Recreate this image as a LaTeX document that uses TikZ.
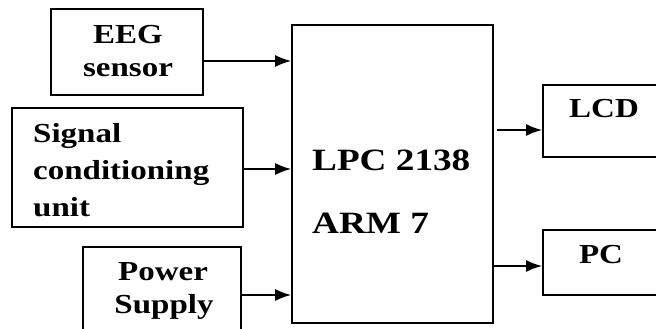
\documentclass[tikz,border=0pt]{standalone}
\usepackage{fontspec}
\setmainfont[FakeStretch=1.2]{Liberation Serif}
\usetikzlibrary{arrows.meta}
\begin{document}
\begin{tikzpicture}[x=1pt,y=-1pt,
  blk/.style={draw,line width=1.6pt,inner sep=0pt},
  txt/.style={font=\bfseries\fontsize{27.5}{37}\selectfont,inner sep=0pt},
  big/.style={font=\bfseries\fontsize{31}{40}\selectfont,inner sep=0pt},
  arr/.style={line width=2pt,-{Latex[length=16pt,width=12pt]}}]
\useasboundingbox (0,0) rectangle (656,329);
\clip (0,0) rectangle (656,329);
% boxes
\node[blk,minimum width=152pt,minimum height=86pt] (eeg) at (127,52) {};
\node[blk,minimum width=231pt,minimum height=119pt] (sig) at (127.5,167.5) {};
\node[blk,minimum width=158pt,minimum height=93pt] (pow) at (162,293.5) {};
\node[blk,minimum width=201pt,minimum height=298pt] (mcu) at (392.5,174) {};
\node[blk,minimum width=127pt,minimum height=72pt] (lcd) at (606.5,121) {};
\node[blk,minimum width=127pt,minimum height=65pt] (pc) at (606.5,262.5) {};
% texts
\node[txt] (t1) at (128,35) {EEG};
\node[txt] (t2) at (128,70) {sensor};
\node[txt,anchor=west,align=left] (t3) at (33,170) {Signal\\conditioning\\unit};
\node[txt] (t4) at (163,272) {Power};
\node[txt] (t5) at (164,307) {Supply};
\node[big,anchor=west] (t6) at (312,160) {LPC 2138};
\node[big,anchor=west] (t7) at (312,223) {ARM 7};
\node[txt] (t8) at (604,109) {LCD};
\node[txt] (t9) at (601,255) {PC};
% arrows
\draw[arr] (eeg.east |- 0,61) -- (mcu.west |- 0,61);
\draw[arr] (sig.east |- 0,169) -- (mcu.west |- 0,169);
\draw[arr] (pow.east |- 0,295) -- (mcu.west |- 0,295);
\draw[arr] ([xshift=3pt]mcu.east |- 0,130) -- (lcd.west |- 0,130);
\draw[arr] (mcu.east |- 0,266) -- (pc.west |- 0,266);
\end{tikzpicture}
\end{document}
